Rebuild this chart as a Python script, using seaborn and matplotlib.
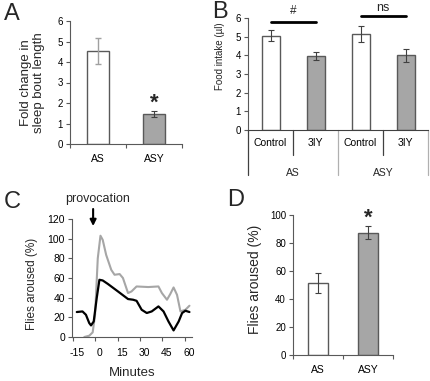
import numpy as np
import pandas as pd
import matplotlib
matplotlib.use("Agg")
import matplotlib.pyplot as plt
import matplotlib.transforms as mtransforms
import seaborn as sns

# A: fold change in sleep bout length
a_groups = ["AS", "ASY"]
a_fold = [4.55, 1.45]
a_err = [0.63, 0.15]

# B: food intake
b_strain = ["AS", "AS", "ASY", "ASY"]
b_treat = ["Control", "3IY", "Control", "3IY"]
b_intake = [5.05, 3.97, 5.15, 4.0]
b_err = [0.3, 0.2, 0.42, 0.35]

# C: arousal time course (black = AS, grey = ASY)
c_min_as = [-12.2, -8.4, -6.1, -3.9, -2.7, -0.9, 1.1, 2.9, 5.1, 8.5, 15.3, 22.0,
            25.4, 27.7, 31.1, 34.5, 37.8, 42.3, 45.7, 49.0, 52.4, 55.8, 58.1, 60.3, 63.0]
c_as = [25.4, 26, 22.6, 14.2, 11.8, 15.8, 39.6, 58.2, 57.5, 54, 46.3, 38.6,
        37.9, 36.8, 27.7, 24.4, 26, 31.1, 26, 15.8, 6.7, 15.8, 24.4, 26.7, 25.4]
c_min_asy = [-7.2, -3.9, -1.6, 0.0, 1.8, 3.6, 5.1, 7.4, 10.8, 13.0, 16.4, 18.6, 22.0,
             24.3, 27.7, 35.5, 42.3, 44.6, 48.0, 50.2, 52.4, 54.7, 57.0, 60.3, 63.0]
c_asy = [0, 1.3, 4.7, 22.6, 80, 103, 98.8, 83.5, 68.3, 63.3, 64, 60, 44.7,
         46.3, 51.4, 50.8, 51.4, 44.7, 37.9, 43.7, 50.4, 42.9, 26, 27.7, 31.8]

# D: flies aroused
d_groups = ["AS", "ASY"]
d_aroused = [51.5, 87.5]
d_err = [7.0, 4.5]

sns.set_style("ticks")
plt.rcParams["font.family"] = ["Liberation Sans", "DejaVu Sans"]
plt.rcParams["axes.unicode_minus"] = False
plt.rcParams["axes.edgecolor"] = "#595959"
plt.rcParams["xtick.color"] = "#595959"
plt.rcParams["ytick.color"] = "#595959"
plt.rcParams["xtick.labelcolor"] = "black"
plt.rcParams["ytick.labelcolor"] = "black"
plt.rcParams["axes.linewidth"] = 0.8

GREY = "#a6a6a6"
EDGE = "#595959"
ERR = "#404040"
W, H = 430, 381

fig = plt.figure(figsize=(4.3, 3.81), dpi=100)


def box(l, r, t, b):
    return [l / W, 1 - b / H, (r - l) / W, (b - t) / H]


def style_cat(ax, n):
    sns.despine(ax=ax)
    ax.set_xlim(-0.5, n - 0.5)
    ax.set_xticks(range(n))
    ax.tick_params(axis="x", which="major", length=0, labelsize=7.5, pad=7)
    ax.set_xticks(np.arange(n + 1) - 0.5, minor=True)
    ax.tick_params(axis="x", which="minor", length=3, width=0.8)
    ax.tick_params(axis="y", length=3, width=0.8, labelsize=7, pad=2)
    ax.set_xlabel("")


# ---- A
axA = fig.add_axes(box(70, 182, 21, 144))
sns.barplot(x=a_groups, y=a_fold, hue=a_groups, palette=["white", GREY],
            width=0.4, edgecolor=EDGE, linewidth=1, legend=False, ax=axA)
axA.errorbar([0], a_fold[:1], yerr=a_err[:1], fmt="none", ecolor="#a0a0a0",
             elinewidth=1, capsize=2, capthick=1)
axA.errorbar([1], a_fold[1:], yerr=a_err[1:], fmt="none", ecolor=ERR,
             elinewidth=0.8, capsize=2, capthick=0.8)
axA.set_ylim(0, 6)
axA.set_yticks(range(0, 7))
style_cat(axA, 2)
axA.text(1, a_fold[1] + a_err[1] + 0.4, "*", ha="center", va="center",
         fontsize=16, fontweight="bold")
axA.set_ylabel("Fold change in\nsleep bout length", fontsize=9.5, va="center",
               linespacing=1.05)
axA.yaxis.set_label_coords(-0.335, 0.5)

# ---- B
axB = fig.add_axes(box(248, 428, 18, 130))
dfb = pd.DataFrame({"key": [s + " " + t for s, t in zip(b_strain, b_treat)],
                    "treat": b_treat, "intake": b_intake})
sns.barplot(data=dfb, x="key", y="intake", hue="treat", dodge=False,
            palette={"Control": "white", "3IY": GREY}, width=0.4,
            edgecolor=EDGE, linewidth=1, legend=False, ax=axB)
axB.errorbar(range(4), b_intake, yerr=b_err, fmt="none", ecolor=ERR,
             elinewidth=0.8, capsize=2, capthick=0.8)
axB.set_ylim(0, 6)
axB.set_yticks(range(0, 7))
style_cat(axB, 4)
axB.tick_params(axis="x", which="minor", length=0)
axB.set_xticklabels(b_treat)
axB.tick_params(axis="x", which="major", pad=6)
axB.set_ylabel("Food intake (µl)", fontsize=7, va="center")
axB.yaxis.set_label_coords(-0.158, 0.655)
axB.spines["bottom"].set_color("#404040")
tB = mtransforms.blended_transform_factory(axB.transData, axB.transAxes)
seps = [(-0.5, -0.40, "#404040"), (0.5, -0.223, "#404040"), (1.5, -0.40, "#b0b0b0"),
        (2.5, -0.223, "#404040"), (3.5, -0.40, "#b0b0b0")]
for xs, yb, col in seps:
    axB.plot([xs, xs], [0, yb], color=col, lw=0.9, transform=tB, clip_on=False)
for i, s in enumerate(["AS", "ASY"]):
    axB.text(2 * i + 0.5, -0.384, s, transform=tB, ha="center", va="center",
             fontsize=7.5)
# significance bars
axB.plot([0, 1], [5.79, 5.79], color="black", lw=2, clip_on=False)
axB.text(0.5, 6.37, "#", ha="center", va="center", fontsize=8.5)
axB.plot([2, 3], [6.1, 6.1], color="black", lw=2, clip_on=False)
axB.text(2.5, 6.55, "ns", ha="center", va="center", fontsize=9)

# ---- C
axC = fig.add_axes(box(72, 192, 219, 337))
sns.lineplot(x=c_min_asy, y=c_asy, color=GREY, lw=1.5, ax=axC)
sns.lineplot(x=c_min_as, y=c_as, color="black", lw=1.6, ax=axC)
sns.despine(ax=axC)
axC.set_xlim(-15.4, 64.7)
axC.set_ylim(0, 120)
axC.set_xticks(range(-15, 61, 15))
axC.set_yticks(range(0, 121, 20))
axC.tick_params(axis="both", length=3, width=0.8, labelsize=7.5, pad=2)
axC.tick_params(axis="x", pad=5)
off = mtransforms.ScaledTranslation(0.04, 0, fig.dpi_scale_trans)
for lab in axC.get_xticklabels():
    lab.set_transform(lab.get_transform() + off)
axC.set_xlabel("Minutes", fontsize=9.5, va="center")
axC.xaxis.set_label_coords(0.5, -0.305)
axC.set_ylabel("Flies aroused (%)", fontsize=8.5, va="center")
axC.yaxis.set_label_coords(-0.335, 0.45)
axC.annotate("", xy=(-1.3, 110), xytext=(-1.3, 133),
             arrowprops=dict(arrowstyle="-|>", color="black", lw=1.5,
                             mutation_scale=9), annotation_clip=False)
axC.text(1.5, 140, "provocation", ha="center", va="center", fontsize=9)

# ---- D
axD = fig.add_axes(box(293, 393, 215, 355))
sns.barplot(x=d_groups, y=d_aroused, hue=d_groups, palette=["white", GREY],
            width=0.4, edgecolor=EDGE, linewidth=1, legend=False, ax=axD)
axD.errorbar(range(2), d_aroused, yerr=d_err, fmt="none", ecolor=ERR,
             elinewidth=0.8, capsize=2, capthick=0.8)
axD.set_ylim(0, 100)
axD.set_yticks(range(0, 101, 20))
style_cat(axD, 2)
axD.text(1, 98, "*", ha="center", va="center", fontsize=16, fontweight="bold",
         clip_on=False)
axD.set_ylabel("Flies aroused (%)", fontsize=10, va="center")
axD.yaxis.set_label_coords(-0.38, 0.543)

# panel letters
for x, y, s in [(12, 14, "A"), (220, 12, "B"), (12, 202, "C"), (236, 200, "D")]:
    fig.text(x / W, 1 - y / H, s, ha="center", va="center", fontsize=17)

fig.savefig("out.png", dpi=100)
